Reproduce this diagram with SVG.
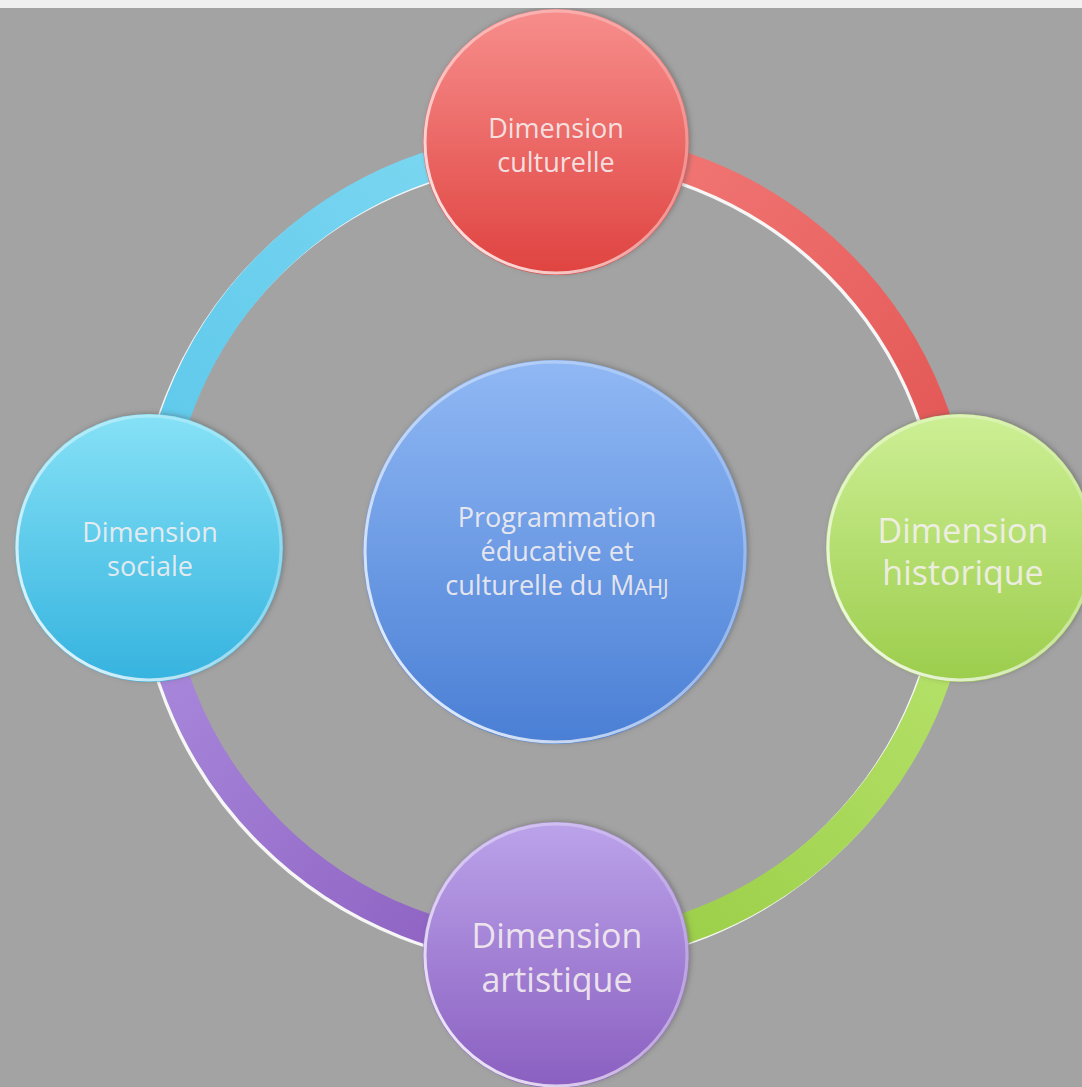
<svg xmlns="http://www.w3.org/2000/svg" width="1082" height="1087" viewBox="0 0 1082 1087">
  <defs>
    <style>
      .lbl { font-family: "Open Sans", "Noto Sans", "Liberation Sans", sans-serif; fill: #f6f0f0; fill-opacity: 0.9; text-anchor: middle; }
      .s27 { font-size: 27px; }
      .s34 { font-size: 34px; }
      .arc { fill: none; stroke-width: 30; }
      .arcHi { fill: none; stroke: #ffffff; stroke-width: 30; stroke-opacity: 0.9; }
      .rim { fill: none; stroke: url(#rimG); stroke-width: 3; }
    </style>
    <filter id="sh" x="-20%" y="-20%" width="140%" height="140%">
      <feDropShadow dx="2" dy="-1" stdDeviation="2.5" flood-color="#555555" flood-opacity="0.45"/>
    </filter>
    <linearGradient id="rimG" x1="1" y1="0" x2="0" y2="1">
      <stop offset="0" stop-color="#ffffff" stop-opacity="0.15"/>
      <stop offset="0.5" stop-color="#ffffff" stop-opacity="0.45"/>
      <stop offset="1" stop-color="#ffffff" stop-opacity="0.95"/>
    </linearGradient>
    <linearGradient id="gRed" x1="0" y1="0" x2="0" y2="1">
      <stop offset="0" stop-color="#f78e8c"/>
      <stop offset="1" stop-color="#df4340"/>
    </linearGradient>
    <linearGradient id="gGreen" x1="0" y1="0" x2="0" y2="1">
      <stop offset="0" stop-color="#cdef95"/>
      <stop offset="1" stop-color="#9ccd4c"/>
    </linearGradient>
    <linearGradient id="gPurple" x1="0" y1="0" x2="0" y2="1">
      <stop offset="0" stop-color="#bba3ea"/>
      <stop offset="1" stop-color="#8a5fc0"/>
    </linearGradient>
    <linearGradient id="gCyan" x1="0" y1="0" x2="0" y2="1">
      <stop offset="0" stop-color="#86e1f6"/>
      <stop offset="1" stop-color="#35b3df"/>
    </linearGradient>
    <linearGradient id="gBlue" x1="0" y1="0" x2="0" y2="1">
      <stop offset="0" stop-color="#90b8f4"/>
      <stop offset="1" stop-color="#4a7fd5"/>
    </linearGradient>
    <linearGradient id="aRed" gradientUnits="userSpaceOnUse" x1="555" y1="146" x2="957" y2="548">
      <stop offset="0" stop-color="#f47c7a"/>
      <stop offset="1" stop-color="#e05250"/>
    </linearGradient>
    <linearGradient id="aGreen" gradientUnits="userSpaceOnUse" x1="957" y1="548" x2="555" y2="950">
      <stop offset="0" stop-color="#b9e46e"/>
      <stop offset="1" stop-color="#96cb42"/>
    </linearGradient>
    <linearGradient id="aPurple" gradientUnits="userSpaceOnUse" x1="555" y1="950" x2="153" y2="548">
      <stop offset="0" stop-color="#8a5cbe"/>
      <stop offset="1" stop-color="#ad8fe0"/>
    </linearGradient>
    <linearGradient id="aCyan" gradientUnits="userSpaceOnUse" x1="153" y1="548" x2="555" y2="146">
      <stop offset="0" stop-color="#5ac6ea"/>
      <stop offset="1" stop-color="#80d9f2"/>
    </linearGradient>
  </defs>

  <rect x="0" y="0" width="1082" height="1087" fill="#a3a3a3"/>

  <g id="connectors">
    <g transform="translate(-2.5,2.5)">
      <path class="arcHi" d="M555,146 A402,402 0 0 1 957,548"/>
      <path class="arcHi" d="M957,548 A402,402 0 0 1 555,950"/>
      <path class="arcHi" d="M555,950 A402,402 0 0 1 153,548"/>
      <path class="arcHi" d="M153,548 A402,402 0 0 1 555,146"/>
    </g>
    <path class="arc" stroke="url(#aRed)" d="M555,146 A402,402 0 0 1 957,548"/>
    <path class="arc" stroke="url(#aGreen)" d="M957,548 A402,402 0 0 1 555,950"/>
    <path class="arc" stroke="url(#aPurple)" d="M555,950 A402,402 0 0 1 153,548"/>
    <path class="arc" stroke="url(#aCyan)" d="M153,548 A402,402 0 0 1 555,146"/>
  </g>

  <g id="node-center">
    <circle cx="555" cy="552" r="192" fill="url(#gBlue)" filter="url(#sh)"/>
    <circle class="rim" cx="555" cy="552" r="190"/>
    <text class="lbl s27" x="557" y="527">Programmation</text>
    <text class="lbl s27" x="557" y="561">éducative et</text>
    <text class="lbl s27" x="557" y="595">culturelle du M<tspan font-size="21">AHJ</tspan></text>
  </g>

  <g id="node-top">
    <circle cx="556" cy="142" r="133" fill="url(#gRed)" filter="url(#sh)"/>
    <circle class="rim" cx="556" cy="142" r="131"/>
    <text class="lbl s27" x="556" y="138">Dimension</text>
    <text class="lbl s27" x="556" y="172">culturelle</text>
  </g>

  <g id="node-right">
    <circle cx="960" cy="548" r="134" fill="url(#gGreen)" filter="url(#sh)"/>
    <circle class="rim" cx="960" cy="548" r="132"/>
    <text class="lbl s34" x="963" y="543">Dimension</text>
    <text class="lbl s34" x="963" y="585">historique</text>
  </g>

  <g id="node-bottom">
    <circle cx="556" cy="955" r="133" fill="url(#gPurple)" filter="url(#sh)"/>
    <circle class="rim" cx="556" cy="955" r="131"/>
    <text class="lbl s34" x="557" y="948">Dimension</text>
    <text class="lbl s34" x="557" y="992">artistique</text>
  </g>

  <g id="node-left">
    <circle cx="149" cy="548" r="134" fill="url(#gCyan)" filter="url(#sh)"/>
    <circle class="rim" cx="149" cy="548" r="132"/>
    <text class="lbl s27" x="150" y="542">Dimension</text>
    <text class="lbl s27" x="150" y="576">sociale</text>
  </g>

  <rect x="0" y="0" width="1082" height="8" fill="#f0f0f0"/>
</svg>
